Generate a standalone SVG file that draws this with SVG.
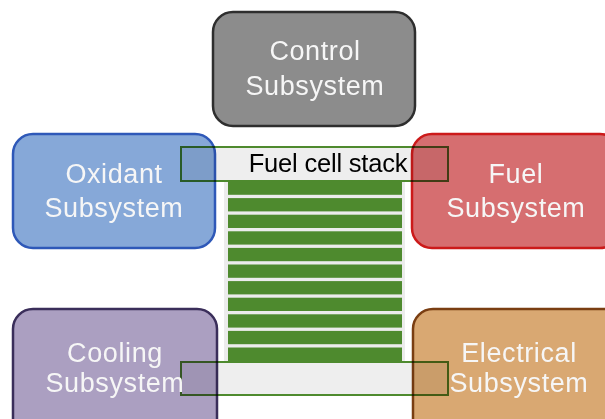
<svg xmlns="http://www.w3.org/2000/svg" width="605" height="419" viewBox="0 0 605 419">
<style>
.box{stroke-width:2.5;mix-blend-mode:multiply}
.lbl{font-family:"Liberation Sans",Arial,sans-serif;font-size:27px;fill:#f6f6f6;text-anchor:middle;letter-spacing:0.6px}
.bar{fill:#eeeeee;stroke:#4e8a2e;stroke-width:2}
.plate{fill:#4e8a2e}
</style>
<rect width="605" height="419" fill="#ffffff"/>
<g id="stack">
<rect x="224" y="180" width="181" height="183" fill="#ececec"/>
<g class="plate">
<rect x="228" y="181.5" width="174" height="13.3"/>
<rect x="228" y="198.1" width="174" height="13.3"/>
<rect x="228" y="214.7" width="174" height="13.3"/>
<rect x="228" y="231.3" width="174" height="13.3"/>
<rect x="228" y="247.9" width="174" height="13.3"/>
<rect x="228" y="264.5" width="174" height="13.3"/>
<rect x="228" y="281.1" width="174" height="13.3"/>
<rect x="228" y="297.7" width="174" height="13.3"/>
<rect x="228" y="314.3" width="174" height="13.3"/>
<rect x="228" y="330.9" width="174" height="13.3"/>
<rect x="228" y="347.5" width="174" height="15"/>
</g>
<rect class="bar" x="181" y="147" width="267" height="34"/>
<rect class="bar" x="181" y="362" width="267" height="33"/>
<text x="328" y="172" font-family="Liberation Sans,Arial,sans-serif" font-size="25.5" fill="#000" text-anchor="middle" letter-spacing="-0.2">Fuel cell stack</text>
</g>
<g id="connectors"></g>
<g id="control">
<rect class="box" x="213" y="12" width="202" height="114" rx="20" fill="#8c8c8c" stroke="#2e2e2e"/>
<text class="lbl" x="315" y="60">Control</text>
<text class="lbl" x="315" y="95">Subsystem</text>
</g>
<g id="oxidant">
<rect class="box" x="13" y="134" width="202" height="114" rx="20" fill="#86a8d8" stroke="#2e58b8"/>
<text class="lbl" x="114" y="183">Oxidant</text>
<text class="lbl" x="114" y="217">Subsystem</text>
</g>
<g id="fuel">
<rect class="box" x="412" y="134" width="208" height="114" rx="20" fill="#d66e70" stroke="#cc1a1a"/>
<text class="lbl" x="516" y="183">Fuel</text>
<text class="lbl" x="516" y="217">Subsystem</text>
</g>
<g id="cooling">
<rect class="box" x="13" y="309" width="204" height="130" rx="20" fill="#ab9fc1" stroke="#3a2e5a"/>
<text class="lbl" x="115" y="362">Cooling</text>
<text class="lbl" x="115" y="392">Subsystem</text>
</g>
<g id="electrical">
<rect class="box" x="413" y="309" width="212" height="130" rx="20" fill="#d9a872" stroke="#7a3e12"/>
<text class="lbl" x="519" y="362">Electrical</text>
<text class="lbl" x="519" y="392">Subsystem</text>
</g>
</svg>
